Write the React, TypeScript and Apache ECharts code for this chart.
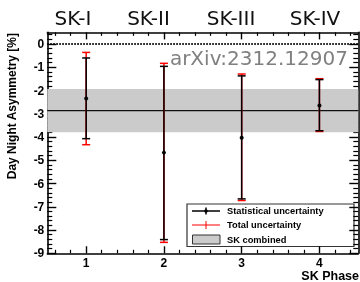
import React, { useEffect, useRef } from 'react';
import * as echarts from 'echarts';

const phases = [1, 2, 3, 4];
const phaseNames = ['SK-I', 'SK-II', 'SK-III', 'SK-IV'];
const central = [-2.34, -4.67, -4.03, -2.64];
const statLow = [-4.07, -8.41, -6.66, -3.73];
const statHigh = [-0.6, -0.96, -1.37, -1.53];
const totalLow = [-4.33, -8.53, -6.73, -3.76];
const totalHigh = [-0.36, -0.83, -1.29, -1.49];
const combinedCenter = [-2.86];
const combinedLow = [-3.79];
const combinedHigh = [-1.93];
const xTickLabels = [1, 2, 3, 4];
const yTickLabels = [-9, -8, -7, -6, -5, -4, -3, -2, -1, 0];

const X_MIN = 0.5;
const X_MAX = 4.5;
const Y_MIN = -9;
const Y_MAX = 0.5;

function minorTicks(lo: number, hi: number, step: number): number[] {
  const out: number[] = [];
  const n = Math.round((hi - lo) / step);
  for (let i = 0; i <= n; i++) {
    const v = Math.round((lo + i * step) * 1000) / 1000;
    if (Math.abs(v - Math.round(v)) > 1e-6) out.push(v);
  }
  return out;
}
const xMinor = minorTicks(0.6, 4.4, 0.2);
const yMinor = minorTicks(-8.8, 0.4, 0.2);

const labelFont = 'Liberation Sans';
const titleCenters = [73, 148.5, 231, 315];

export default function App() {
  const ref = useRef<HTMLDivElement>(null);
  useEffect(() => {
    const chart = echarts.init(ref.current!, null, { renderer: 'svg' });
    const frame = { show: true, onZero: false, lineStyle: { color: '#000', width: 1.6 } };
    const noLine = { show: false, onZero: false };
    const major = (len: number, vals: number[]) => ({
      show: true, inside: true, length: len, customValues: vals,
      lineStyle: { color: '#000', width: 1.4 },
    });
    const minor = (len: number, vals: number[]) => ({
      show: true, inside: true, length: len, customValues: vals,
      lineStyle: { color: '#000', width: 1.2 },
    });
    const errData = phases.map((p, i) => [p, central[i], statLow[i], statHigh[i], totalLow[i], totalHigh[i]]);
    const bandData = combinedCenter.map((c, i) => [c, combinedLow[i], combinedHigh[i]]);
    const option: any = {
      animation: false,
      grid: { left: 47.3, right: 1.7, top: 32.4, bottom: 28.7, containLabel: false },
      xAxis: [
        {
          type: 'value', min: X_MIN, max: X_MAX, position: 'bottom',
          axisLine: frame, axisTick: major(7, xTickLabels), splitLine: { show: false },
          axisLabel: { customValues: xTickLabels, color: '#000', fontFamily: labelFont, fontWeight: 'bold', fontSize: 12, margin: 3.5 },
        },
        {
          type: 'value', min: X_MIN, max: X_MAX, position: 'bottom',
          axisLine: noLine, axisTick: minor(3.5, xMinor),
          axisLabel: { show: false }, splitLine: { show: false },
        },
        {
          type: 'value', min: X_MIN, max: X_MAX, position: 'top',
          axisLine: frame, axisTick: major(7, xTickLabels), axisLabel: { show: false }, splitLine: { show: false },
        },
        {
          type: 'value', min: X_MIN, max: X_MAX, position: 'top',
          axisLine: noLine, axisTick: minor(3.5, xMinor),
          axisLabel: { show: false }, splitLine: { show: false },
        },
      ],
      yAxis: [
        {
          type: 'value', min: Y_MIN, max: Y_MAX, position: 'left',
          axisLine: frame, axisTick: major(9, yTickLabels), splitLine: { show: false },
          axisLabel: { customValues: yTickLabels, color: '#000', fontFamily: labelFont, fontWeight: 'bold', fontSize: 12, margin: 3 },
        },
        {
          type: 'value', min: Y_MIN, max: Y_MAX, position: 'left',
          axisLine: noLine, axisTick: minor(5, yMinor),
          axisLabel: { show: false }, splitLine: { show: false },
        },
        {
          type: 'value', min: Y_MIN, max: Y_MAX, position: 'right',
          axisLine: frame, axisTick: major(9, yTickLabels), axisLabel: { show: false }, splitLine: { show: false },
        },
        {
          type: 'value', min: Y_MIN, max: Y_MAX, position: 'right',
          axisLine: noLine, axisTick: minor(5, yMinor),
          axisLabel: { show: false }, splitLine: { show: false },
        },
      ],
      series: [
        {
          type: 'custom', xAxisIndex: 0, yAxisIndex: 0, z: 1,
          data: bandData,
          renderItem: (params: any, api: any) => {
            const c = api.value(0), lo = api.value(1), hi = api.value(2);
            const tl = api.coord([X_MIN, hi]);
            const br = api.coord([X_MAX, lo]);
            const cl = api.coord([X_MIN, c]);
            const cr = api.coord([X_MAX, c]);
            return {
              type: 'group',
              children: [
                { type: 'rect', shape: { x: tl[0], y: tl[1], width: br[0] - tl[0], height: br[1] - tl[1] }, style: { fill: '#cbcbcb' } },
                { type: 'line', shape: { x1: cl[0], y1: cl[1], x2: cr[0], y2: cr[1] }, style: { stroke: '#111', lineWidth: 1.3 } },
              ],
            };
          },
          markLine: {
            silent: true, symbol: 'none', label: { show: false },
            lineStyle: { color: '#000', width: 2, type: [1.5, 1.5] },
            data: [{ yAxis: 0 }],
          },
        },
        {
          type: 'custom', xAxisIndex: 0, yAxisIndex: 0, z: 3,
          data: errData,
          renderItem: (params: any, api: any) => {
            const x = api.value(0);
            const c = api.coord([x, api.value(1)]);
            const sl = api.coord([x, api.value(2)]);
            const sh = api.coord([x, api.value(3)]);
            const tl = api.coord([x, api.value(4)]);
            const th = api.coord([x, api.value(5)]);
            const hw = 4;
            const cap = (p: number[], color: string) => ({
              type: 'line', shape: { x1: p[0] - hw, y1: p[1], x2: p[0] + hw, y2: p[1] }, style: { stroke: color, lineWidth: 1.5 },
            });
            return {
              type: 'group',
              children: [
                { type: 'line', shape: { x1: tl[0], y1: tl[1], x2: th[0], y2: th[1] }, style: { stroke: '#ff0000', lineWidth: 1.5 } },
                cap(tl, '#ff0000'), cap(th, '#ff0000'),
                { type: 'line', shape: { x1: sl[0], y1: sl[1], x2: sh[0], y2: sh[1] }, style: { stroke: '#000', lineWidth: 1.5 } },
                cap(sl, '#000'), cap(sh, '#000'),
                { type: 'circle', shape: { cx: c[0], cy: c[1], r: 2 }, style: { fill: '#000' } },
              ],
            };
          },
        },
      ],
      graphic: [
        ...phaseNames.map((n, i) => ({
          type: 'text', x: titleCenters[i], y: 17.5,
          style: { text: n, font: '20px "DejaVu Sans"', fill: '#111', textAlign: 'center', textVerticalAlign: 'middle' },
        })),
        {
          type: 'text', x: 348, y: 57.7,
          style: { text: 'arXiv:2312.12907', font: '20px "DejaVu Sans"', fill: '#808080', textAlign: 'right', textVerticalAlign: 'middle' },
        },
        {
          type: 'text', x: 11.7, y: 33, rotation: Math.PI / 2,
          style: { text: 'Day Night Asymmetry [%]', font: 'bold 12px "Liberation Sans"', fill: '#000', textAlign: 'right', textVerticalAlign: 'middle' },
        },
        {
          type: 'text', x: 359, y: 276,
          style: { text: 'SK Phase', font: 'bold 12.5px "Liberation Sans"', fill: '#000', textAlign: 'right', textVerticalAlign: 'middle' },
        },
        {
          type: 'group', z: 100,
          children: [
            { type: 'rect', shape: { x: 187, y: 204, width: 167, height: 42.5 }, style: { fill: '#fff', stroke: '#333', lineWidth: 1.2 } },
            { type: 'line', shape: { x1: 192, y1: 211, x2: 220, y2: 211 }, style: { stroke: '#000', lineWidth: 1.5 } },
            { type: 'line', shape: { x1: 206, y1: 207.5, x2: 206, y2: 214.5 }, style: { stroke: '#000', lineWidth: 1.5 } },
            { type: 'circle', shape: { cx: 206, cy: 211, r: 1.8 }, style: { fill: '#000' } },
            { type: 'text', x: 227, y: 211, style: { text: 'Statistical uncertainty', font: 'bold 9.3px "Liberation Sans"', fill: '#000', textVerticalAlign: 'middle' } },
            { type: 'line', shape: { x1: 192, y1: 225, x2: 220, y2: 225 }, style: { stroke: '#ff0000', lineWidth: 1 } },
            { type: 'line', shape: { x1: 206, y1: 221, x2: 206, y2: 229 }, style: { stroke: '#ff0000', lineWidth: 1 } },
            { type: 'text', x: 227, y: 225, style: { text: 'Total uncertainty', font: 'bold 9.3px "Liberation Sans"', fill: '#000', textVerticalAlign: 'middle' } },
            { type: 'rect', shape: { x: 192.5, y: 235, width: 27.5, height: 9 }, style: { fill: '#cbcbcb', stroke: '#333', lineWidth: 1 } },
            { type: 'text', x: 227, y: 239.5, style: { text: 'SK combined', font: 'bold 9.3px "Liberation Sans"', fill: '#000', textVerticalAlign: 'middle' } },
          ],
        },
      ],
    };
    chart.setOption(option);
    return () => chart.dispose();
  }, []);
  return <div ref={ref} style={{ position: 'fixed', left: 0, top: 0, width: 360, height: 282 }} />;
}
